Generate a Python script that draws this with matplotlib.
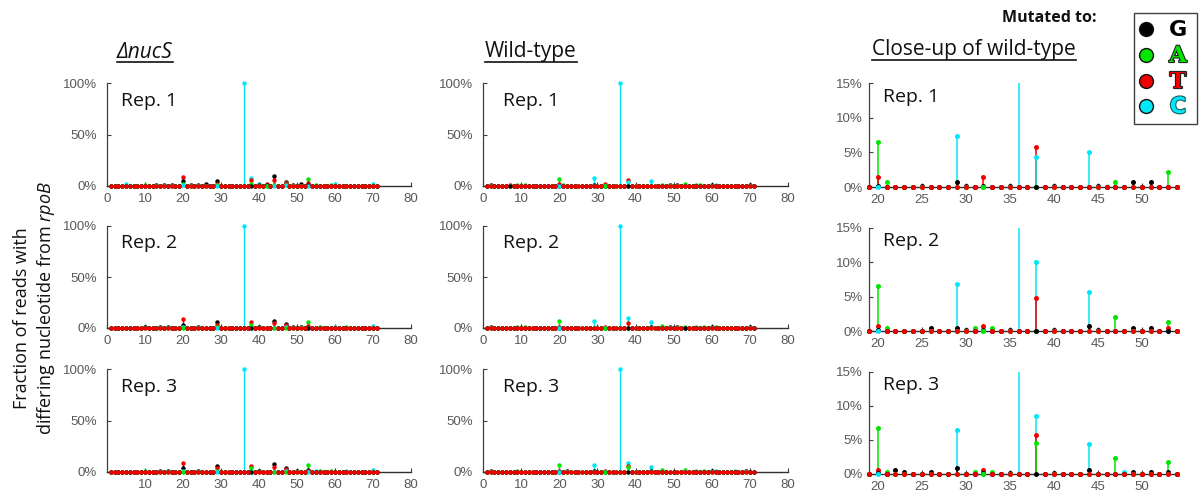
import matplotlib
matplotlib.use("Agg")
import matplotlib.pyplot as plt
import matplotlib.patheffects as pe
from matplotlib.patches import Rectangle
import numpy as np

plt.rcParams['font.family'] = ['Open Sans', 'DejaVu Sans']
plt.rcParams['mathtext.fontset'] = 'custom'
plt.rcParams['mathtext.it'] = 'Open Sans:italic'
plt.rcParams['mathtext.rm'] = 'Open Sans'

# Nucleotide positions along the sequenced rpoB fragment
positions = np.arange(1, 72)

# Drawing order used when two bases tie at a position (last one ends on top)
TIE_ORDER = ['C', 'A', 'G', 'T']
LEGEND_ORDER = ['G', 'A', 'T', 'C']
BASE_COLORS = {'G': '#000000', 'A': '#00e600', 'T': '#f00000', 'C': '#00e8f8'}

# Fraction of reads (%) carrying each substituted base, nonzero positions only
nucs_rep1 = {
    'G': {13: 0.6, 15: 0.6, 17: 0.6, 20: 5.0, 22: 0.8, 24: 0.8, 26: 1.5, 29: 5.0,
          40: 0.8, 42: 0.8, 44: 10.0, 47: 4.0, 49: 1.0, 51: 1.5, 53: 1.0},
    'A': {10: 0.8, 20: 2.0, 29: 1.0, 38: 1.5, 44: 1.0, 47: 3.0, 53: 6.5, 55: 0.8, 59: 0.8},
    'T': {20: 8.7, 29: 1.5, 38: 5.5, 42: 2.0, 44: 6.0, 47: 2.5, 53: 2.5},
    'C': {5: 2.0, 20: 1.0, 36: 100.0, 38: 7.5, 40: 2.0, 47: 1.0, 60: 2.0, 70: 2.0},
}
nucs_rep2 = {
    'G': {10: 0.8, 14: 0.6, 16: 0.6, 20: 3.3, 24: 0.8, 29: 5.5, 40: 0.8, 44: 7.2,
          47: 3.9, 49: 0.8, 51: 0.8},
    'A': {10: 1.0, 29: 0.8, 38: 3.3, 53: 5.9, 56: 0.6, 63: 0.6},
    'T': {20: 8.8, 29: 2.6, 38: 5.9, 44: 4.9, 47: 2.6, 53: 1.6},
    'C': {20: 1.0, 36: 100.0, 40: 0.8, 47: 0.8, 60: 0.6, 70: 1.6},
}
nucs_rep3 = {
    'G': {14: 0.6, 16: 0.6, 20: 3.6, 24: 0.8, 29: 5.8, 40: 0.6, 44: 7.8, 47: 4.2,
          50: 0.6, 53: 2.0},
    'A': {10: 0.8, 29: 0.8, 38: 3.6, 53: 6.5, 56: 0.6, 59: 0.6},
    'T': {20: 8.4, 29: 3.6, 38: 6.1, 44: 5.2, 47: 2.6, 53: 1.0},
    'C': {20: 1.0, 36: 100.0, 40: 0.8, 47: 0.8, 55: 0.6, 63: 0.6, 70: 2.0},
}
wt_rep1 = {
    'G': {2: 0.8, 20: 0.2, 25: 0.2, 29: 0.7, 30: 0.2, 32: 0.2, 35: 0.2, 40: 0.2,
          45: 0.2, 49: 0.7, 51: 0.7, 60: 0.6, 70: 0.8},
    'A': {9: 0.6, 11: 0.6, 20: 6.5, 21: 0.7, 47: 0.7, 53: 2.2, 56: 0.8, 57: 0.8},
    'T': {7: 0.8, 20: 1.5, 32: 1.5, 38: 5.8},
    'C': {29: 7.3, 36: 100.0, 38: 4.3, 44: 5.1, 61: 0.6},
}
wt_rep2 = {
    'G': {2: 0.6, 20: 0.2, 26: 0.4, 29: 0.4, 30: 0.2, 32: 0.2, 35: 0.2, 40: 0.2,
          44: 0.8, 45: 0.2, 49: 0.5, 51: 0.5, 60: 0.5, 70: 0.6},
    'A': {9: 0.5, 11: 0.5, 20: 6.5, 21: 0.4, 31: 0.4, 33: 0.4, 47: 2.1, 53: 1.3,
          56: 0.6, 58: 0.6, 61: 0.6},
    'T': {20: 0.8, 32: 0.8, 38: 4.8, 53: 0.4},
    'C': {29: 6.9, 36: 100.0, 38: 10.0, 44: 5.7},
}
wt_rep3 = {
    'G': {2: 0.6, 20: 0.2, 22: 0.6, 23: 0.3, 26: 0.3, 29: 0.9, 32: 0.2, 35: 0.2,
          40: 0.2, 44: 0.6, 49: 0.3, 51: 0.3, 53: 0.3, 60: 0.5, 69: 0.5},
    'A': {9: 0.5, 20: 6.8, 21: 0.3, 31: 0.3, 33: 0.3, 38: 4.5, 47: 2.4, 53: 1.8,
          56: 0.5, 58: 0.5},
    'T': {20: 0.6, 32: 0.6, 38: 5.7},
    'C': {29: 6.5, 36: 100.0, 38: 8.5, 44: 4.4, 48: 0.25, 61: 0.5, 66: 0.5},
}

rep_labels = ['Rep. 1', 'Rep. 2', 'Rep. 3']
column_titles = ['ΔnucS', 'Wild-type', 'Close-up of wild-type']
full_xticks = [0, 10, 20, 30, 40, 50, 60, 70, 80]
full_yticks = [0, 50, 100]
zoom_xticks = [20, 25, 30, 35, 40, 45, 50]
zoom_yticks = [0, 5, 10, 15]

W, H = 1199, 495
fig = plt.figure(figsize=(W / 100, H / 100), dpi=100)


def px_axes(left, right, top, bottom):
    return fig.add_axes([left / W, 1 - bottom / H, (right - left) / W, (bottom - top) / H])


def draw_stems(ax, rep, xmin, xmax, ymax, ms, lw):
    vals = np.array([[rep[b].get(p, 0.0) for p in positions] for b in TIE_ORDER])
    inside = (positions >= xmin) & (positions <= xmax)
    ranks = np.zeros(vals.shape, dtype=int)
    for j in range(vals.shape[1]):
        order = sorted(range(len(TIE_ORDER)), key=lambda i: (-vals[i, j], i))
        for r, i in enumerate(order):
            ranks[i, j] = r
    for r in range(len(TIE_ORDER)):
        for i, b in enumerate(TIE_ORDER):
            sel = inside & (ranks[i] == r)
            x = positions[sel]
            y = vals[i][sel]
            c = BASE_COLORS[b]
            ax.vlines(x, 0, y, colors=c, lw=lw, zorder=3 + 2 * r, capstyle='butt')
            vis = y <= ymax
            ax.plot(x[vis], y[vis], 'o', ms=ms, color=c, mew=0,
                    clip_on=False, zorder=4 + 2 * r)


def style_axes(ax, ypad, xpad):
    for s in ('top', 'right'):
        ax.spines[s].set_visible(False)
    ax.spines['left'].set_color('#404040')
    ax.spines['left'].set_linewidth(0.9)
    ax.spines['bottom'].set_color('#303030')
    ax.spines['bottom'].set_linewidth(1.0)
    ax.tick_params(axis='y', direction='in', length=3, width=0.8, color='#404040',
                   labelcolor='#595959', labelsize=9.5, pad=ypad)
    ax.tick_params(axis='x', direction='in', length=3, width=0.8, color='#404040',
                   labelcolor='#595959', labelsize=9.5, pad=xpad)
    for lab in ax.get_xticklabels() + ax.get_yticklabels():
        lab.set_fontfamily('Liberation Sans')
    ax.set_facecolor('none')


row_px = [(83, 186), (226, 328), (369, 472)]
zoom_row_px = [(83, 187), (228, 331), (372, 474)]
col_px = [(107, 411), (483, 788)]
rep_text_x = [0.045, 0.066]

for col, reps in enumerate([[nucs_rep1, nucs_rep2, nucs_rep3], [wt_rep1, wt_rep2, wt_rep3]]):
    for row, rep in enumerate(reps):
        top, bottom = row_px[row]
        ax = px_axes(col_px[col][0], col_px[col][1], top, bottom)
        ax.set_xlim(0, 80)
        ax.set_ylim(0, 100)
        xt = full_xticks if not (col == 0 and row == 2) else full_xticks[1:]
        ax.set_xticks(xt)
        ax.set_xticklabels([str(v) for v in xt])
        ax.set_yticks(full_yticks)
        ax.set_yticklabels([f'{v}%' for v in full_yticks])
        draw_stems(ax, rep, 0, 80, 100, ms=3.2, lw=1.0)
        style_axes(ax, ypad=7.5, xpad=5)
        ax.text(rep_text_x[col], 0.83, rep_labels[row], transform=ax.transAxes,
                fontsize=14, ha='left', va='center', color='#111111')

for row, rep in enumerate([wt_rep1, wt_rep2, wt_rep3]):
    top, bottom = zoom_row_px[row]
    ax = px_axes(869, 1177, top, bottom)
    ax.set_xlim(19, 54)
    ax.set_ylim(0, 15)
    ax.set_xticks(zoom_xticks)
    ax.set_xticklabels([str(v) for v in zoom_xticks])
    ax.set_yticks(zoom_yticks)
    ax.set_yticklabels([f'{v}%' for v in zoom_yticks])
    draw_stems(ax, rep, 19, 54, 15, ms=3.6, lw=1.1)
    style_axes(ax, ypad=4.5, xpad=5)
    ax.text(0.045, 0.87, rep_labels[row], transform=ax.transAxes,
            fontsize=14, ha='left', va='center', color='#111111')

# Overlay in pixel units for titles, axis caption and legend
ov = fig.add_axes([0, 0, 1, 1], zorder=20)
ov.set_xlim(0, W)
ov.set_ylim(H, 0)
ov.axis('off')
ov.patch.set_alpha(0)

titles = []
titles.append(ov.text(117, 52, column_titles[0], fontsize=15, style='italic',
                      ha='left', va='center', color='#111111'))
titles.append(ov.text(485, 52, column_titles[1], fontsize=15,
                      ha='left', va='center', color='#111111'))
titles.append(ov.text(872, 50, column_titles[2], fontsize=15,
                      ha='left', va='center', color='#111111'))

ov.text(22, 318, 'Fraction of reads with', rotation=90, fontsize=13,
        ha='center', va='center', color='#111111')
ov.text(46, 308, r'differing nucleotide from $\it{rpoB}$', rotation=90, fontsize=13,
        ha='center', va='center', color='#111111')

# Legend
ov.text(1097, 18, 'Mutated to:', fontsize=11.5, fontweight='bold', ha='right',
        va='center', color='#111111')
ov.add_patch(Rectangle((1134, 13), 63, 111, fill=False, ec='#404040', lw=1.0))
legend_y = [29, 55, 81, 106]
letter_fonts = {'G': 'DejaVu Sans', 'A': 'DejaVu Serif', 'T': 'DejaVu Serif', 'C': 'DejaVu Sans'}
for yy, b in zip(legend_y, LEGEND_ORDER):
    ov.plot([1146], [yy], 'o', ms=10, color=BASE_COLORS[b], mec='#111111', mew=1.0)
    t = ov.text(1178, yy + 1, b, fontsize=16, fontweight='bold', ha='center', va='center',
                color=BASE_COLORS[b], family=letter_fonts[b])
    if b != 'G':
        edge = '#1a5e60' if b == 'C' else '#222222'
        t.set_path_effects([pe.Stroke(linewidth=1.6, foreground=edge), pe.Normal()])

# Underline the column titles
fig.canvas.draw()
renderer = fig.canvas.get_renderer()
inv = ov.transData.inverted()
for t in titles:
    bb = t.get_window_extent(renderer)
    (x0, y0), (x1, y1) = inv.transform([[bb.x0, bb.y0], [bb.x1, bb.y1]])
    ov.plot([x0, x1], [y0 - 1, y0 - 1], color='#111111', lw=1.2)

fig.savefig('out.png', dpi=100)
